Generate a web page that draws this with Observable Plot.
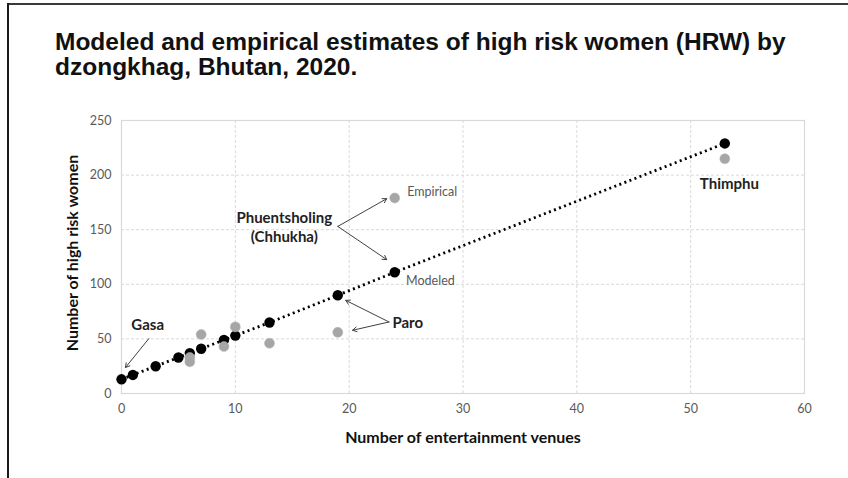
<!DOCTYPE html>
<html>
<head>
<meta charset="utf-8">
<script src="https://cdn.jsdelivr.net/npm/d3@7"></script>
<script src="https://cdn.jsdelivr.net/npm/@observablehq/plot@0.6"></script>
<style>
  html, body { margin: 0; padding: 0; background: #fff; }
  #page { position: relative; width: 848px; height: 478px; overflow: hidden; }
  #topline { position: absolute; left: 7px; top: 3px; width: 841px; height: 2px; background: #3a3a3a; }
  #leftline { position: absolute; left: 7px; top: 3px; width: 2px; height: 475px; background: #1a1a1a; }
  #title { position: absolute; left: 55px; top: 29px; font-family: "Liberation Sans", Arial, sans-serif; font-weight: bold; font-size: 24.5px; line-height: 25px; color: #111; white-space: nowrap; }
  #chart { position: absolute; left: 0; top: 100px; }
</style>
</head>
<body>
<div id="page">
  <div id="title">Modeled and empirical estimates of high risk women (HRW) by<br>dzongkhag, Bhutan, 2020.</div>
  <div id="chart"></div>
  <div id="topline"></div>
  <div id="leftline"></div>
</div>
<script>
// ---- data ----
const xTicks = [0, 10, 20, 30, 40, 50, 60];
const yTicks = [0, 50, 100, 150, 200, 250];

const modeledX = [0, 1, 3, 5, 6, 7, 9, 10, 13, 19, 24, 53];
const modeledY = [13, 17, 25, 33, 37, 41, 49, 53, 65, 90, 111, 229];

const empiricalX = [6, 6, 7, 9, 10, 13, 19, 24, 53];
const empiricalY = [33, 29, 54, 43, 61, 46, 56, 179, 215];

// annotation labels (data units)
const boldLabels = ["Gasa", "Phuentsholing", "(Chhukha)", "Paro", "Thimphu"];
const boldLabelX = [2.3, 14.3, 14.3, 23.8, 53.4];
const boldLabelY = [62.5, 161, 142.7, 64.3, 192];
const boldLabelAnchor = ["middle", "middle", "middle", "start", "middle"];

const seriesLabels = ["Empirical", "Modeled"];
const seriesLabelX = [25.1, 25.0];
const seriesLabelY = [184.4, 103];

// arrows (data units)
const arrowX1 = [2.4, 19.0, 19.0, 23.5, 23.5];
const arrowY1 = [50.3, 153, 153, 65.5, 65.5];
const arrowX2 = [0.35, 23.3, 23.3, 19.7, 20.3];
const arrowY2 = [23.8, 178.4, 122.6, 85.3, 57.9];

// ---- tables ----
const modeled = modeledX.map((x, i) => ({x, y: modeledY[i]}));
const empirical = empiricalX.map((x, i) => ({x, y: empiricalY[i]}));
const bold = boldLabels.map((t, i) => ({t, x: boldLabelX[i], y: boldLabelY[i], a: boldLabelAnchor[i]}));
const series = seriesLabels.map((t, i) => ({t, x: seriesLabelX[i], y: seriesLabelY[i]}));
const arrows = arrowX1.map((x1, i) => ({x1, y1: arrowY1[i], x2: arrowX2[i], y2: arrowY2[i]}));

const chart = Plot.plot({
  width: 848,
  height: 378,
  marginTop: 20,
  marginBottom: 85,
  marginLeft: 121,
  marginRight: 44,
  style: {fontFamily: "Lato, 'Open Sans', sans-serif", background: "transparent"},
  x: {domain: [0, 60]},
  y: {domain: [0, 250]},
  marks: [
    Plot.gridX(xTicks, {stroke: "#d9d9d9", strokeOpacity: 1, strokeDasharray: "3,2"}),
    Plot.gridY(yTicks, {stroke: "#d9d9d9", strokeOpacity: 1, strokeDasharray: "3,2"}),
    Plot.frame({stroke: "#d9d9d9", strokeWidth: 1.2}),
    Plot.axisX({ticks: xTicks, tickSize: 0, tickPadding: 11, color: "#595959", fontSize: 12.5, label: null}),
    Plot.axisY({ticks: yTicks, tickSize: 0, tickPadding: 10, color: "#595959", fontSize: 12.5, label: null}),
    Plot.text(["Number of entertainment venues"], {frameAnchor: "bottom", dy: 49, fontWeight: "bold", fontSize: 16, fill: "#111"}),
    Plot.text(["Number of high risk women"], {frameAnchor: "left", dx: -49, dy: -4, rotate: -90, textAnchor: "middle", fontWeight: "bold", fontSize: 16, fill: "#111"}),
    Plot.line(modeled, {x: "x", y: "y", stroke: "#000", strokeWidth: 2.8, strokeDasharray: "2,3.4", strokeLinecap: "butt"}),
    Plot.dot(modeled, {x: "x", y: "y", r: 5.2, fill: "#000"}),
    Plot.dot(empirical, {x: "x", y: "y", r: 5, fill: "#a6a6a6", stroke: "#b5b5b5", strokeWidth: 0.5}),
    Plot.arrow(arrows, {x1: "x1", y1: "y1", x2: "x2", y2: "y2", stroke: "#404040", strokeWidth: 1, headLength: 7}),
    Plot.text(bold, {x: "x", y: "y", text: "t", textAnchor: "middle", fontWeight: "bold", fontSize: 15, fill: "#222",
      filter: d => d.a === "middle"}),
    Plot.text(bold, {x: "x", y: "y", text: "t", textAnchor: "start", fontWeight: "bold", fontSize: 15, fill: "#222",
      filter: d => d.a === "start"}),
    Plot.text(series, {x: "x", y: "y", text: "t", textAnchor: "start", fontSize: 12.5, fill: "#595959"})
  ]
});
document.getElementById("chart").appendChild(chart);
</script>
</body>
</html>
